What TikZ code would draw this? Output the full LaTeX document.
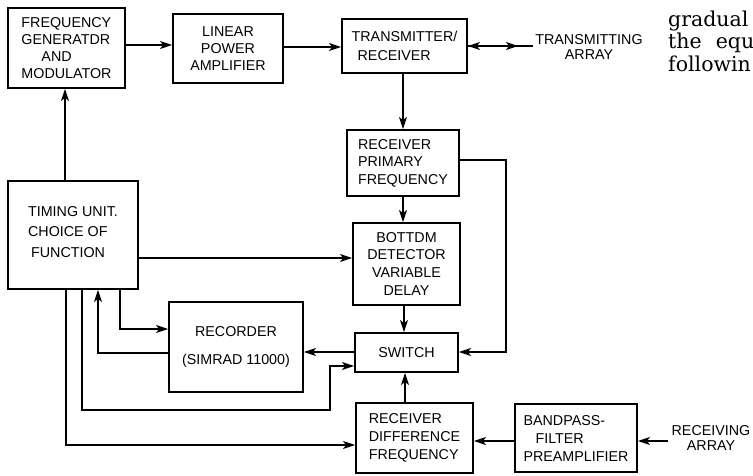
\documentclass[tikz,border=0pt]{standalone}
\usepackage{fontspec}
\setmainfont{Liberation Sans}
\newfontfamily\pagefont{DejaVu Serif}
\usetikzlibrary{arrows.meta,calc}
\begin{document}
\begin{tikzpicture}[x=1pt,y=-1pt,
  blk/.style={draw, line width=1.9pt, inner sep=0pt, font=\fontsize{14.3}{17}\selectfont},
  wire/.style={line width=1.8pt},
  arr/.style={line width=1.8pt, -{Stealth[length=12pt,width=8pt,inset=3pt]}},
  lbl/.style={font=\fontsize{14.3}{15}\selectfont, align=center, inner sep=0pt},
  pg/.style={anchor=base west, inner sep=0pt, font=\pagefont\fontsize{20.5}{22.5}\selectfont}]
\useasboundingbox (0,0) rectangle (753,475);
% blocks
\node[blk, minimum width=117pt, minimum height=80pt, align=left] (fgm) at (66.5,48)
  {FREQUENCY\\GENERATDR\\\hspace*{20pt}AND\\MODULATOR};
\node[blk, minimum width=110pt, minimum height=69pt, align=center] (lpa) at (228,48.5)
  {LINEAR\\POWER\\AMPLIFIER};
\node[blk, minimum width=125pt, minimum height=54pt, align=left, font=\fontsize{14.3}{19}\selectfont] (tr) at (404.5,46)
  {TRANSMITTER/\\\hspace*{6pt}RECEIVER};
\node[blk, minimum width=112pt, minimum height=66pt, align=left, font=\fontsize{14.3}{17.5}\selectfont] (rpf) at (403,163)
  {RECEIVER\\PRIMARY\\FREQUENCY};
\node[blk, minimum width=107pt, minimum height=82pt, align=center, font=\fontsize{14.3}{18}\selectfont] (bdvd) at (406.5,264)
  {BOTTDM\\DETECTOR\\VARIABLE\\DELAY};
\node[blk, minimum width=130pt, minimum height=108pt, align=left, font=\fontsize{14.3}{20.5}\selectfont] (tu) at (73,235)
  {TIMING UNIT.\\CHOICE OF\\\hspace*{3pt}FUNCTION\\[-14pt]\mbox{}};
\node[blk, minimum width=134pt, minimum height=90pt, align=center] (rec) at (236,347)
  {RECORDER\\[11pt](SIMRAD 11000)};
\node[blk, minimum width=103pt, minimum height=39pt] (sw) at (406.5,352.5) {SWITCH};
\node[blk, minimum width=117pt, minimum height=70pt, align=left, font=\fontsize{14.3}{18}\selectfont] (rdf) at (414.5,438)
  {RECEIVER\\DIFFERENCE\\FREQUENCY};
\node[blk, minimum width=122pt, minimum height=68pt, align=left, font=\fontsize{14.3}{18}\selectfont] (bpf) at (576,438)
  {BANDPASS-\\\hspace*{12pt}FILTER\\PREAMPLIFIER};
% free labels
\node[lbl] (ta) at (589,47) {TRANSMITTING\\ARRAY};
\node[lbl] (ra) at (711,438) {RECEIVING\\ARRAY};
\node[pg] (pg1) at (668,26) {gradual};
\node[pg] (pg2) at (668,48) {the\hspace{14pt}equ};
\node[pg] (pg3) at (668,71) {followin};
% free ends
\coordinate (tamid) at (518,46);
\coordinate (taend) at (533,46);
\coordinate (raend) at (668,441);
% connectors
\draw[arr] (fgm.east |- 0,45) -- (lpa.west |- 0,45);
\draw[arr] (lpa.east |- 0,47) -- (tr.west |- 0,47);
\draw[arr] (tamid) -- (tr.east |- tamid);
\draw[arr] (tr.east |- tamid) -- (tamid);
\draw[wire] (tamid) -- (taend);
\draw[arr] (tr.south -| 403,0) -- (rpf.north -| 403,0);
\draw[arr] (rpf.south -| 403,0) -- (bdvd.north -| 403,0);
\draw[arr] (bdvd.south -| 404,0) -- (sw.north -| 404,0);
\draw[arr] (rdf.north -| 405,0) -- (sw.south -| 405,0);
\draw[arr] (rpf.east |- 0,160) -| (506,352) -- (sw.east |- 0,352);
\draw[arr] (sw.west |- 0,352) -- (rec.east |- 0,352);
\draw[arr] (tu.north -| 65,0) -- (fgm.south -| 65,0);
\draw[arr] (tu.east |- 0,258) -- (bdvd.west |- 0,258);
\draw[arr] (tu.south -| 120,0) |- (rec.west |- 0,329);
\draw[arr] (rec.west |- 0,353) -| (tu.south -| 98,0);
\draw[arr] (tu.south -| 82,0) |- (330,410) |- (sw.west |- 0,366);
\draw[arr] (tu.south -| 66,0) |- (rdf.west |- 0,445);
\draw[arr] (bpf.west |- 0,441) -- (rdf.east |- 0,441);
\draw[arr] (raend) -- (bpf.east |- raend);
\end{tikzpicture}
\end{document}
